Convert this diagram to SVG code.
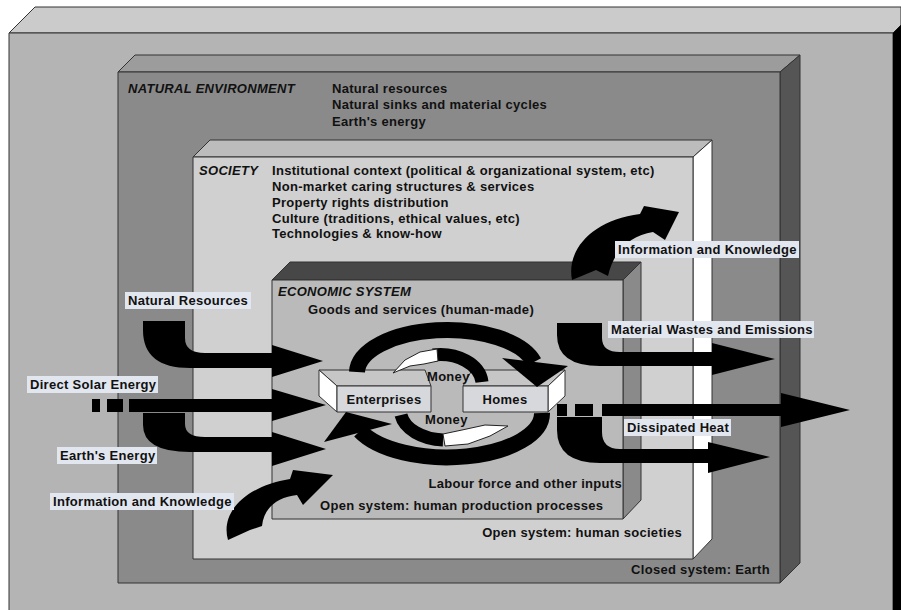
<svg xmlns="http://www.w3.org/2000/svg" width="901" height="610" viewBox="0 0 901 610">
<style>
.t{font-family:"Liberation Sans",Arial,sans-serif;font-weight:bold;font-size:13px;fill:#111;letter-spacing:0.3px}
.ti{font-style:italic}
.lbg{fill:#e2e6ee}
.e{stroke:#333;stroke-width:1;stroke-linejoin:round}
.flow{fill:#000}
.arc{fill:none;stroke:#000}
.wh{fill:#fff;stroke:#222;stroke-width:1}
</style>
<rect width="901" height="610" fill="#fff"/>
<g id="earth">
<polygon class="e" points="9,33 35,7 901,7 901,25 893,33" fill="#cbcbcb"/>
<rect class="e" x="9" y="33" width="884" height="590" fill="#b4b4b4"/>
<polygon points="893,33 901,25 901,610 893,610" fill="#000"/>
</g>
<g id="natural-environment">
<polygon class="e" points="118,72 135,55 800,55 780,72" fill="#9c9c9c"/>
<polygon class="e" points="780,72 800,55 800,563 780,583" fill="#555"/>
<rect class="e" x="118" y="72" width="662" height="511" fill="#8a8a8a"/>
<text class="t ti" x="128" y="93">NATURAL ENVIRONMENT</text>
<text class="t" x="332" y="93">Natural resources</text>
<text class="t" x="332" y="109">Natural sinks and material cycles</text>
<text class="t" x="332" y="126">Earth's energy</text>
</g>
<g id="society">
<polygon class="e" points="193,157 210,140 712,140 693,157" fill="#bcbcbc"/>
<polygon class="e" points="693,157 712,140 712,539 693,559" fill="#fff"/>
<rect class="e" x="193" y="157" width="500" height="402" fill="#d0d0d0"/>
<text class="t ti" x="199" y="175">SOCIETY</text>
<text class="t" x="272" y="175">Institutional context (political &amp; organizational system, etc)</text>
<text class="t" x="272" y="191">Non-market caring structures &amp; services</text>
<text class="t" x="272" y="207">Property rights distribution</text>
<text class="t" x="272" y="223">Culture (traditions, ethical values, etc)</text>
<text class="t" x="272" y="238">Technologies &amp; know-how</text>
<text class="t" x="682" y="537" text-anchor="end">Open system: human societies</text>
</g>
<g id="economic-system">
<polygon class="e" points="272,280 290,262 641,262 623,280" fill="#474747"/>
<polygon class="e" points="623,280 641,262 641,500 623,519" fill="#8a8a8a"/>
<rect class="e" x="272" y="280" width="351" height="239" fill="#bababa"/>
<text class="t ti" x="278" y="296">ECONOMIC SYSTEM</text>
<text class="t" x="308" y="314">Goods and services (human-made)</text>
<text class="t" x="622" y="488" text-anchor="end">Labour force and other inputs</text>
<text class="t" x="320" y="510">Open system: human production processes</text>
</g>
<text class="t" x="770" y="574" text-anchor="end">Closed system: Earth</text>
<g id="connectors">
<path class="flow" d="M143,321 H185 V338 Q185,353 205,353 H272 V345 L323,361 L272,377 V368 H190 Q143,368 143,330 Z"/>
<rect class="flow" x="92" y="399" width="8" height="13"/>
<rect class="flow" x="107" y="399" width="16" height="13"/>
<path class="flow" d="M129,399 H272 V389 L326,405 L272,421 V412 H129 Z"/>
<path class="flow" d="M143,413 H185 V424 Q185,437 205,437 H272 V432 L326,449 L272,466 V452 H190 Q143,452 143,425 Z"/>
<path class="flow" d="M557,323 H602 V338 Q602,352 620,352 H712 V343 L775,359 L712,375 V366 H600 Q557,366 557,335 Z"/>
<rect class="flow" x="557" y="404" width="10" height="12"/>
<rect class="flow" x="575" y="404" width="18" height="12"/>
<path class="flow" d="M602,404 H781 V393 L850,410 L781,427 V416 H602 Z"/>
<path class="flow" d="M557,417 H602 V432 Q602,449 620,449 H708 V442 L770,457 L708,473 V463 H600 Q557,463 557,430 Z"/>
<path class="flow" d="M572,280 C566,250 592,220 640,214 L644,206 L679,212 L665,240 L653,232 C630,236 614,250 608,276 L596,270 Z"/>
<path class="flow" d="M228,540 C220,512 246,486 290,479 L293,470 L333,475 L303,505 L297,495 C278,497 264,507 262,526 L250,530 Z"/>
</g>
<g id="enterprises">
<polygon class="e" points="319,370 425,370 431,386 337,386" fill="#c6c6c6"/>
<polygon class="e" points="319,370 337,386 337,412 319,396" fill="#fff"/>
<rect class="e" x="337" y="386" width="94" height="26" fill="#d6d8dc"/>
<text class="t" x="384" y="404" text-anchor="middle">Enterprises</text>
</g>
<g id="homes">
<polygon class="e" points="472,370 565,370 548,386 463,386" fill="#c6c6c6"/>
<polygon class="e" points="548,386 565,370 565,396 548,412" fill="#fff"/>
<rect class="e" x="463" y="386" width="85" height="26" fill="#d6d8dc"/>
<text class="t" x="505" y="404" text-anchor="middle">Homes</text>
</g>
<g id="cycle-connectors">
<path class="arc" stroke-width="16" d="M357,372 A90,43 0 0 1 534,362"/>
<polygon class="flow" points="502,358 568,366 537,387"/>
<path class="arc" stroke-width="16" d="M542,413 A95,44 0 0 1 360,431"/>
<polygon class="flow" points="324,442 392,424 346,412"/>
<path class="arc" stroke-width="13" d="M482,382 A42,30 0 0 0 433,355"/>
<polygon class="wh" points="437,349 420,352 405,360 393,373 410,366 424,364 438,361"/>
<path class="arc" stroke-width="13" d="M401,415 A45,30 0 0 0 443,440"/>
<polygon class="wh" points="443,434 462,430 485,425 508,426 490,436 468,444 445,446"/>
<text class="t" x="427" y="381">Money</text>
<text class="t" x="425" y="424">Money</text>
</g>
<g id="labels">
<rect class="lbg" x="125" y="292" width="126" height="17"/>
<text class="t" x="128" y="305">Natural Resources</text>
<rect class="lbg" x="27" y="376" width="131" height="17"/>
<text class="t" x="30" y="389">Direct Solar Energy</text>
<rect class="lbg" x="57" y="447" width="100" height="17"/>
<text class="t" x="60" y="460">Earth's Energy</text>
<rect class="lbg" x="50" y="493" width="184" height="17"/>
<text class="t" x="53" y="506">Information and Knowledge</text>
<rect class="lbg" x="615" y="241" width="184" height="17"/>
<text class="t" x="618" y="254">Information and Knowledge</text>
<rect class="lbg" x="608" y="321" width="206" height="17"/>
<text class="t" x="611" y="334">Material Wastes and Emissions</text>
<rect class="lbg" x="624" y="419" width="107" height="17"/>
<text class="t" x="627" y="432">Dissipated Heat</text>
</g>
</svg>
